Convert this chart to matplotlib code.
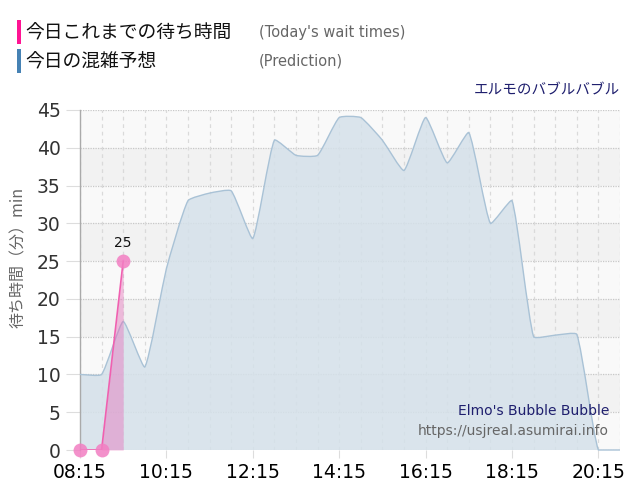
import matplotlib
matplotlib.use("Agg")
import matplotlib.pyplot as plt
import numpy as np
from matplotlib.path import Path
from matplotlib.patches import PathPatch, Rectangle

# ---------------- data ----------------
pred_times = ["08:15", "08:45", "09:15", "09:45", "10:15", "10:45", "11:15", "11:45",
              "12:15", "12:45", "13:15", "13:45", "14:15", "14:45", "15:15", "15:45",
              "16:15", "16:45", "17:15", "17:45", "18:15", "18:45", "19:15", "19:45",
              "20:15", "20:45"]
pred_values = [10, 10, 17, 11, 24, 33, 34, 34.3,
               28, 41, 39, 39, 44, 44, 41, 37,
               44, 38, 42, 30, 33, 15, 15.2, 15.3,
               0, 0]
wait_times = ["08:15", "08:45", "09:15"]
wait_values = [0, 0, 25]
xtick_labels = ["08:15", "10:15", "12:15", "14:15", "16:15", "18:15", "20:15"]
yticks = [0, 5, 10, 15, 20, 25, 30, 35, 40, 45]

title1 = "今日これまでの待ち時間"
title1_en = "(Today's wait times)"
title2 = "今日の混雑予想"
title2_en = "(Prediction)"
attraction_jp = "エルモのバブルバブル"
attraction_en = "Elmo's Bubble Bubble"
site = "https://usjreal.asumirai.info"
ylabel = "待ち時間（分）min"


def to_min(s):
    h, m = s.split(":")
    return int(h) * 60 + int(m)


px = np.array([to_min(t) for t in pred_times], dtype=float)
py = np.array(pred_values, dtype=float)
wx = np.array([to_min(t) for t in wait_times], dtype=float)
wy = np.array(wait_values, dtype=float)

XMIN, XMAX = to_min("08:15"), to_min("20:45")
YMIN, YMAX = 0, 45

JP = ["Noto Sans CJK JP", "DejaVu Sans"]

fig = plt.figure(figsize=(6.4, 5.0), dpi=100)
fig.patch.set_facecolor("white")
ax = fig.add_axes([0.125, 0.1, 0.84375, 0.68])
ax.set_xlim(XMIN, XMAX)
ax.set_ylim(YMIN, YMAX)
ax.set_facecolor("white")

# alternating bands
for i, y0 in enumerate(range(0, 45, 5)):
    col = "#f9f9f9" if (i % 2 == 0) else "#f2f2f2"
    ax.axhspan(y0, y0 + 5, color=col, zorder=0, lw=0)

# grid
for y in yticks:
    ax.axhline(y, color="#c8c8c8", lw=0.9, ls=(0, (1, 1)), zorder=1)
for x in np.arange(XMIN, XMAX + 1, 30):
    ax.axvline(x, color="#dadada", lw=0.9, ls=(0, (3, 3)), zorder=1)


# ------------- smooth prediction curve (Chart.js style bezier) -------------
def spline_path(xs, ys, sx, sy, t=0.15):
    X = xs * sx
    Y = ys * sy
    n = len(X)
    cpl = []
    cpr = []
    for i in range(n):
        p = max(i - 1, 0)
        q = min(i + 1, n - 1)
        d01 = np.hypot(X[i] - X[p], Y[i] - Y[p])
        d12 = np.hypot(X[q] - X[i], Y[q] - Y[i])
        tot = d01 + d12
        s01 = d01 / tot if tot > 0 else 0
        s12 = d12 / tot if tot > 0 else 0
        fa, fb = t * s01, t * s12
        lx = X[i] - fa * (X[q] - X[p])
        ly = Y[i] - fa * (Y[q] - Y[p])
        rx = X[i] + fb * (X[q] - X[p])
        ry = Y[i] + fb * (Y[q] - Y[p])
        cpl.append((lx / sx, min(max(ly / sy, YMIN), YMAX)))
        cpr.append((rx / sx, min(max(ry / sy, YMIN), YMAX)))
    verts = [(xs[0], ys[0])]
    codes = [Path.MOVETO]
    for i in range(n - 1):
        verts += [cpr[i], cpl[i + 1], (xs[i + 1], ys[i + 1])]
        codes += [Path.CURVE4] * 3
    return verts, codes


sx = 86.3 / 120.0
sy = 340.0 / 45.0
verts, codes = spline_path(px, py, sx, sy)

fill_verts = verts + [(px[-1], 0), (px[0], 0), (px[0], py[0])]
fill_codes = codes + [Path.LINETO, Path.LINETO, Path.CLOSEPOLY]
ax.add_patch(PathPatch(Path(fill_verts, fill_codes), facecolor="#d5e1ea",
                       edgecolor="none", alpha=0.85, zorder=2))
ax.add_patch(PathPatch(Path(verts, codes), facecolor="none",
                       edgecolor="#a9c2d6", lw=1.0, zorder=3, clip_on=False))

# ------------- today's wait times -------------
ax.fill_between(wx, wy, 0, color="#e66ab8", alpha=0.42, lw=0, zorder=4)
ax.plot(wx, wy, color="#f060b0", lw=1.2, zorder=5)
ax.plot(wx, wy, "o", ms=10, color="#f27ec2", alpha=0.85, mec="none",
        zorder=6, clip_on=False)
ax.annotate(f"{int(wy[-1])}", (wx[-1], wy[-1]), xytext=(0, 8),
            textcoords="offset points", ha="center", va="bottom",
            fontsize=10, color="#111111", family="DejaVu Sans", zorder=7)

# ------------- axes / ticks -------------
for s in ["top", "right", "bottom"]:
    ax.spines[s].set_visible(False)
ax.spines["left"].set_color("#aaaaaa")
ax.spines["left"].set_linewidth(1.0)

ax.set_yticks(yticks)
ax.set_yticklabels([str(v) for v in yticks], fontsize=13.5, color="#333333",
                   family="DejaVu Sans")
ax.tick_params(axis="y", length=10, color="#dddddd", pad=4)

ax.set_xticks([to_min(t) for t in xtick_labels])
ax.set_xticklabels(xtick_labels, fontsize=13.5, color="#000000",
                   family="DejaVu Sans")
ax.tick_params(axis="x", length=6, color="#dddddd", pad=3)

fig.text(0.029, 0.485, ylabel, rotation=90, ha="center", va="center",
         fontsize=11.5, color="#666666", family=JP)

# ------------- header -------------
fig.add_artist(Rectangle((17 / 640, 1 - 44 / 500), 4 / 640, 24 / 500,
                         transform=fig.transFigure, color="#ff1493", lw=0))
fig.add_artist(Rectangle((17 / 640, 1 - 73 / 500), 4 / 640, 24 / 500,
                         transform=fig.transFigure, color="#4682b4", lw=0))
fig.text(25 / 640, 1 - 33 / 500, title1, fontsize=13.5, color="#111111",
         family=JP, va="center", ha="left")
fig.text(259 / 640, 1 - 32 / 500, title1_en, fontsize=10.5, color="#666666",
         family="DejaVu Sans", va="center", ha="left")
fig.text(25 / 640, 1 - 62 / 500, title2, fontsize=13.5, color="#111111",
         family=JP, va="center", ha="left")
fig.text(259 / 640, 1 - 61 / 500, title2_en, fontsize=10.5, color="#666666",
         family="DejaVu Sans", va="center", ha="left")
fig.text(620 / 640, 1 - 91 / 500, attraction_jp, fontsize=10.5,
         color="#1f1f6e", family=JP, va="center", ha="right")

# watermark inside plot
fig.text(609 / 640, 1 - 411 / 500, attraction_en, fontsize=10,
         color="#1f1f6e", family="DejaVu Sans", va="center", ha="right",
         zorder=10)
fig.text(609 / 640, 1 - 431 / 500, site, fontsize=10,
         color="#666666", family="DejaVu Sans", va="center", ha="right",
         zorder=10)

fig.savefig("out.png", dpi=100, facecolor="white")
